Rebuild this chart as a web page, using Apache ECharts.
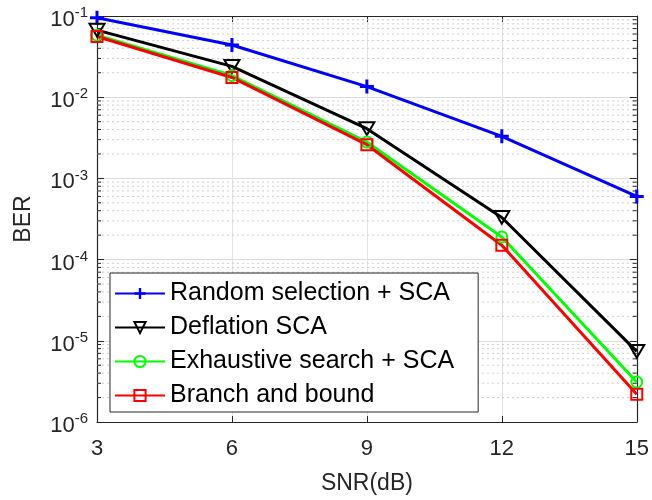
<!DOCTYPE html>
<html>
<head>
<meta charset="utf-8">
<script src="https://cdn.jsdelivr.net/npm/echarts@6/dist/echarts.min.js"></script>
<style>html,body{margin:0;padding:0;background:#fff}#c{width:652px;height:500px}</style>
</head>
<body>
<div id="c"></div>
<script>
// ---- data ----
var snr = [3, 6, 9, 12, 15];
var randomSCA = [0.095, 0.044, 0.0135, 3.3e-3, 6.0e-4];
var deflationSCA = [0.067, 0.024, 4.1e-3, 3.3e-4, 7.4e-6];
var exhaustiveSCA = [0.058, 0.0185, 2.8e-3, 1.9e-4, 3.1e-6];
var branchBound = [0.056, 0.0175, 2.6e-3, 1.5e-4, 2.2e-6];
var seriesNames = ['Random selection + SCA', 'Deflation SCA', 'Exhaustive search + SCA', 'Branch and bound'];
var xTicks = [3, 6, 9, 12, 15];
var yDecades = [1e-6, 1e-5, 1e-4, 1e-3, 1e-2];
var minorMult = [2, 3, 4, 5, 6, 7, 8, 9];

function pairs(ys) { return snr.map(function (x, i) { return [x, ys[i]]; }); }
var minorVals = [];
yDecades.forEach(function (d) { minorMult.forEach(function (m) { minorVals.push([m * d]); }); });

var axisColor = '#262626';
var font = '"Liberation Sans", Arial, Helvetica, sans-serif';

var chart = echarts.init(document.getElementById('c'));
var common = {
  type: 'line', z: 3, symbolKeepAspect: true, showSymbol: true, animation: false
};
function mk(name, data, color, symbol, size, fillColor, bw) {
  return Object.assign({}, common, {
    name: name, data: pairs(data), color: color,
    symbol: symbol, symbolSize: size,
    lineStyle: { color: color, width: 3 },
    itemStyle: { color: fillColor, borderColor: color, borderWidth: bw }
  });
}
var plusPath = 'path://M-1.5,-7 L1.5,-7 L1.5,-1.5 L7,-1.5 L7,1.5 L1.5,1.5 L1.5,7 L-1.5,7 L-1.5,1.5 L-7,1.5 L-7,-1.5 L-1.5,-1.5 Z';
var triDown = 'path://M0,0 L20,0 L10,17 Z';

var option = {
  backgroundColor: '#fff',
  animation: false,
  textStyle: { fontFamily: font },
  grid: { left: 97, right: 13, top: 16, bottom: 76 },
  legend: {
    orient: 'vertical', left: 110, top: 273,
    data: seriesNames,
    backgroundColor: '#fff', borderColor: axisColor, borderWidth: 1,
    padding: [8, 24, 4, 4],
    itemWidth: 50, itemHeight: 14, itemGap: 9,
    textStyle: { fontSize: 25, color: '#000', fontFamily: font }
  },
  xAxis: [{
    type: 'value', min: 3, max: 15, interval: 3,
    name: 'SNR(dB)', nameLocation: 'middle', nameGap: 50,
    nameTextStyle: { fontSize: 23, color: axisColor, fontFamily: font },
    axisLine: { show: true, onZero: false, lineStyle: { color: axisColor, width: 1.2 } },
    axisTick: { show: true, inside: true, length: 6, lineStyle: { color: axisColor } },
    axisLabel: { fontSize: 22, color: axisColor, margin: 16, fontFamily: font },
    splitLine: { show: true, lineStyle: { color: '#e3e3e3', width: 1 } }
  }, {
    type: 'value', min: 3, max: 15, interval: 3, position: 'top',
    axisLine: { show: true, onZero: false, lineStyle: { color: axisColor, width: 1.2 } },
    axisTick: { show: true, inside: true, length: 6, lineStyle: { color: axisColor } },
    axisLabel: { show: false }, splitLine: { show: false }
  }],
  yAxis: [{
    type: 'log', logBase: 10, min: 1e-6, max: 1e-1,
    name: 'BER', nameLocation: 'middle', nameGap: 62, nameRotate: 90,
    nameTextStyle: { fontSize: 23, color: axisColor, fontFamily: font },
    axisLine: { show: true, onZero: false, lineStyle: { color: axisColor, width: 1.2 } },
    axisTick: { show: true, inside: true, length: 7, lineStyle: { color: axisColor } },
    axisLabel: {
      margin: 9, color: axisColor,
      formatter: function (v) {
        var e = Math.round(Math.log10(v));
        return '{b|10}{s|' + e + '}';
      },
      rich: {
        b: { fontSize: 22, color: axisColor, fontFamily: font, padding: [8, 0, 0, 0] },
        s: { fontSize: 15, color: axisColor, fontFamily: font, padding: [0, 0, 6, 0] }
      }
    },
    splitLine: { show: true, lineStyle: { color: '#dcdcdc', width: 1 } }
  }, {
    type: 'log', logBase: 10, min: 1e-6, max: 1e-1, position: 'right',
    axisLine: { show: true, onZero: false, lineStyle: { color: axisColor, width: 1.2 } },
    axisTick: { show: true, inside: true, length: 7, lineStyle: { color: axisColor } },
    axisLabel: { show: false }, splitLine: { show: false }
  }],
  series: [
    {
      type: 'custom', silent: true, z: 1, data: minorVals, animation: false,
      renderItem: function (params, api) {
        var v = api.value(0);
        var p0 = api.coord([3, v]);
        var p1 = api.coord([15, v]);
        return {
          type: 'group', children: [
            { type: 'line', shape: { x1: p0[0], y1: p0[1], x2: p1[0], y2: p1[1] },
              style: { stroke: '#cfcfcf', lineWidth: 1, lineDash: [2, 3] } },
            { type: 'line', shape: { x1: p0[0], y1: p0[1], x2: p0[0] + 4, y2: p0[1] },
              style: { stroke: axisColor, lineWidth: 1 } },
            { type: 'line', shape: { x1: p1[0] - 4, y1: p1[1], x2: p1[0], y2: p1[1] },
              style: { stroke: axisColor, lineWidth: 1 } }
          ]
        };
      }
    },
    mk(seriesNames[0], randomSCA, '#0000ff', plusPath, 14, '#0000ff', 0),
    mk(seriesNames[1], deflationSCA, '#000000', triDown, 15, 'rgba(0,0,0,0)', 2),
    mk(seriesNames[2], exhaustiveSCA, '#00ff00', 'circle', 11, 'rgba(0,0,0,0)', 2),
    mk(seriesNames[3], branchBound, '#ff0000', 'rect', 11, 'rgba(0,0,0,0)', 2)
  ]
};
chart.setOption(option);
</script>
</body>
</html>
